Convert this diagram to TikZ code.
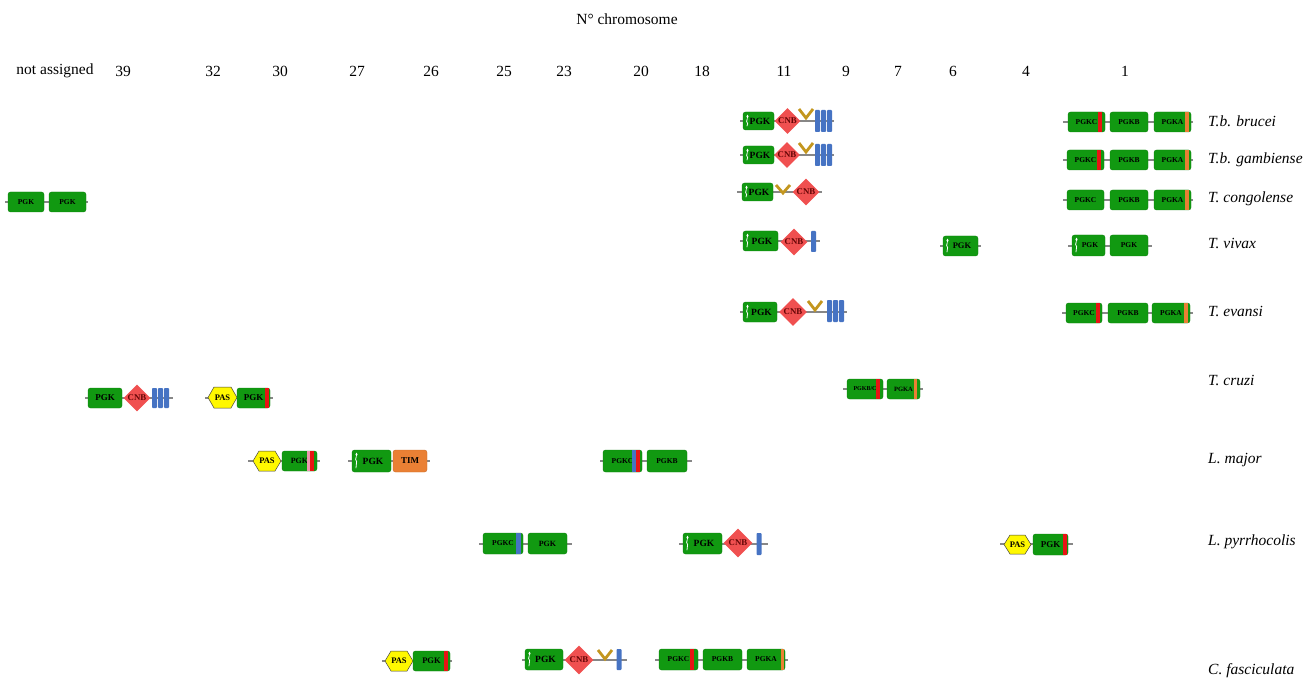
\documentclass[tikz,border=0pt]{standalone}
\usepackage{fontspec}
\setmainfont{Liberation Serif}
\usetikzlibrary{shapes.geometric}
\definecolor{ggreen}{RGB}{17,153,17}
\definecolor{cnbred}{RGB}{240,80,80}
\definecolor{cnbtext}{RGB}{100,5,5}
\definecolor{barblue}{RGB}{70,115,195}
\definecolor{vgold}{RGB}{195,150,30}
\definecolor{orng}{RGB}{234,128,52}
\definecolor{pasyel}{RGB}{255,248,0}
\definecolor{bbgray}{RGB}{135,135,135}
\definecolor{stripered}{RGB}{232,20,20}
\definecolor{stripepink}{RGB}{240,150,175}
\tikzset{
  gbox/.style={fill=ggreen, draw=ggreen!85!black, line width=0.4pt, rounded corners=2.5pt, inner sep=0pt, text=black},
  timbox/.style={gbox, fill=orng, draw=orng!85!black},
  cnb/.style={diamond, fill=cnbred, inner sep=0pt, text=cnbtext, font=\fontsize{8.8}{8.8}\selectfont\bfseries},
  bbar/.style={fill=barblue, rounded corners=0.8pt, inner sep=0pt, minimum width=5pt},
  vmark/.style={draw=vgold, line width=2.8pt},
  bbline/.style={draw=bbgray, line width=1.1pt},
  pasdraw/.style={fill=pasyel, draw=black!75, line width=0.5pt},
  pastext/.style={inner sep=0pt, font=\fontsize{8.5}{8.5}\selectfont\bfseries},
  lab/.style={font=\fontsize{15.5}{15.5}\selectfont, inner sep=0pt},
  spec/.style={lab, font=\fontsize{15.5}{15.5}\selectfont\itshape, anchor=west}
}
% name, x1, x2, y1, y2, label, fontsize
\newcommand{\GB}[7]{\node[gbox, font=\fontsize{#7}{#7}\selectfont\bfseries, minimum width={(#3-#2)*1pt}, minimum height={(#5-#4)*1pt}] (#1) at ({(#2+#3)/2},{(#4+#5)/2}) {#6};}
\newcommand{\TB}[7]{\node[timbox, font=\fontsize{#7}{#7}\selectfont\bfseries, minimum width={(#3-#2)*1pt}, minimum height={(#5-#4)*1pt}] (#1) at ({(#2+#3)/2},{(#4+#5)/2}) {#6};}
% stripe x1 x2 y1 y2 colour
\newcommand{\ST}[5]{\fill[#5] (#1,#3) rectangle (#2,#4);}
% white mark x1 y1 y2
\newcommand{\WM}[3]{\fill[white] (#1+4.5,#2+4.5) ellipse (1.1pt and 1.8pt); \draw[white, line width=0.8pt, line cap=round] (#1+4.3,#2+6.5) -- (#1+3.6,#2+9.5) -- (#1+4.6,#2+11.5) -- (#1+4,{#3-4});}
% diamond name x y size
\newcommand{\CN}[4]{\node[cnb, minimum width=#4pt, minimum height=#4pt] (#1) at (#2,#3) {CNB};}
% chevron name x ytop depth
\newcommand{\VV}[4]{\coordinate (#1) at (#2,#3); \draw[vmark] (#2-7,#3) -- (#2,#3+#4) -- (#2+7,#3);}
% bar name cx y1 y2
\newcommand{\BR}[4]{\node[bbar, minimum height={(#4-#3)*1pt}] (#1) at (#2,{(#3+#4)/2}) {};}
% PAS name x1 x2 y1 y2
\newcommand{\PA}[5]{\draw[pasdraw] (#2,{(#4+#5)/2}) -- (#2+6,#4) -- (#3-6,#4) -- (#3,{(#4+#5)/2}) -- (#3-6,#5) -- (#2+6,#5) -- cycle; \node[pastext] (#1) at ({(#2+#3)/2},{(#4+#5)/2}) {PAS};}
% backbone name x1 x2 y
\newcommand{\BB}[4]{\coordinate (#1a) at (#2,#4); \coordinate (#1b) at (#3,#4); \draw[bbline] (#1a) -- (#1b);}
\begin{document}
\begin{tikzpicture}[x=1pt,y=-1pt]
\useasboundingbox (0,0) rectangle (1304,679);
% titles
\node[lab] (title) at (627,19) {N° chromosome};
\node[lab] (cna) at (55,71) {not assigned};
\node[lab] (c39) at (123,71) {39};
\node[lab] (c32) at (213,71) {32};
\node[lab] (c30) at (280,71) {30};
\node[lab] (c27) at (357,71) {27};
\node[lab] (c26) at (431,71) {26};
\node[lab] (c25) at (504,71) {25};
\node[lab] (c23) at (564,71) {23};
\node[lab] (c20) at (641,71) {20};
\node[lab] (c18) at (702,71) {18};
\node[lab] (c11) at (784,71) {11};
\node[lab] (c9) at (846,71) {9};
\node[lab] (c7) at (898,71) {7};
\node[lab] (c6) at (953,71) {6};
\node[lab] (c4) at (1026,71) {4};
\node[lab] (c1) at (1125,71) {1};
% species
\node[spec] (s1) at (1208,121) {T.b. brucei};
\node[spec] (s2) at (1208,160) {T.b. gambiense};
\node[spec] (s3) at (1208,199) {T. congolense};
\node[spec] (s4) at (1208,243) {T. vivax};
\node[spec] (s5) at (1208,311) {T. evansi};
\node[spec] (s6) at (1208,380) {T. cruzi};
\node[spec] (s7) at (1208,460) {L. major};
\node[spec] (s8) at (1208,542) {L. pyrrhocolis};
\node[spec] (s9) at (1208,671) {C. fasciculata};

% ---- T.b. brucei
\BB{l1}{740}{834}{121}
\GB{p1}{743}{774}{112}{130}{\hspace{3pt}PGK}{9.5}\WM{743}{112}{130}
\CN{cn1}{787.5}{121}{26}
\VV{v1}{806}{109}{9}
\BR{b1a}{817.5}{110}{132}\BR{b1b}{823.5}{110}{132}\BR{b1c}{829.5}{110}{132}
\BB{r1}{1063}{1193}{122}
\GB{pc1}{1068}{1105}{112}{132}{PGKC\hspace{3pt}}{7.5}\ST{1098}{1102}{112}{132}{stripered}
\GB{pb1}{1110}{1148}{112}{132}{PGKB}{7.5}
\GB{pa1}{1154}{1191}{112}{132}{PGKA\hspace{3pt}}{7.5}\ST{1185}{1189}{112}{132}{orng}

% ---- T.b. gambiense
\BB{l2}{740}{834}{155}
\GB{p2}{743}{774}{146}{164}{\hspace{3pt}PGK}{9.5}\WM{743}{146}{164}
\CN{cn2}{787}{155}{26}
\VV{v2}{806}{143}{9}
\BR{b2a}{817.5}{144}{166}\BR{b2b}{823.5}{144}{166}\BR{b2c}{829.5}{144}{166}
\BB{r2}{1063}{1193}{160}
\GB{pc2}{1067}{1104}{150}{170}{PGKC\hspace{3pt}}{7.5}\ST{1097}{1101}{150}{170}{stripered}
\GB{pb2}{1110}{1148}{150}{170}{PGKB}{7.5}
\GB{pa2}{1154}{1191}{150}{170}{PGKA\hspace{3pt}}{7.5}\ST{1185}{1189}{150}{170}{orng}

% ---- T. congolense
\BB{l3}{737}{822}{192}
\GB{p3}{742}{773}{183}{201}{\hspace{3pt}PGK}{9.5}\WM{742}{183}{201}
\VV{v3}{783}{185}{8}
\CN{cn3}{806}{192}{27}
\BB{r3}{1063}{1193}{200}
\GB{pc3}{1067}{1104}{190}{210}{PGKC}{7.5}
\GB{pb3}{1110}{1148}{190}{210}{PGKB}{7.5}
\GB{pa3}{1154}{1191}{190}{210}{PGKA\hspace{3pt}}{7.5}\ST{1185}{1189}{190}{210}{orng}

% ---- not assigned
\BB{na}{5}{88}{202}
\GB{pn1}{8}{44}{192}{212}{PGK}{7.5}
\GB{pn2}{49}{86}{192}{212}{PGK}{7.5}

% ---- T. vivax
\BB{l4}{740}{820}{241}
\GB{p4}{743}{778}{231}{251}{\hspace{3pt}PGK}{9.5}\WM{743}{231}{251}
\CN{cn4}{794}{242}{27}
\BR{b4}{813.5}{231}{252}
\BB{v6}{940}{981}{246}
\GB{p6}{943}{978}{236}{256}{\hspace{3pt}PGK}{8.5}\WM{943}{236}{256}
\BB{r4}{1068}{1152}{246}
\GB{pv1}{1072}{1105}{235}{256}{\hspace{3pt}PGK}{7.5}\WM{1072}{235}{256}
\GB{pv2}{1110}{1148}{235}{256}{PGK}{7.5}

% ---- T. evansi
\BB{l5}{740}{847}{312}
\GB{p5}{743}{777}{302}{322}{\hspace{3pt}PGK}{9.5}\WM{743}{302}{322}
\CN{cn5}{793}{312}{28}
\VV{v5}{815}{301}{9}
\BR{b5a}{829.5}{300}{322}\BR{b5b}{835.5}{300}{322}\BR{b5c}{841.5}{300}{322}
\BB{r5}{1062}{1193}{313}
\GB{pc5}{1066}{1102}{303}{323}{PGKC\hspace{3pt}}{7.5}\ST{1096}{1100}{303}{323}{stripered}
\GB{pb5}{1108}{1148}{303}{323}{PGKB}{7.5}
\GB{pa5}{1152}{1190}{303}{323}{PGKA\hspace{3pt}}{7.5}\ST{1184}{1188}{303}{323}{orng}

% ---- T. cruzi
\BB{cz1}{85}{173}{398}
\GB{pz1}{88}{122}{388}{408}{PGK}{9}
\CN{cnz}{137}{398}{27}
\BR{bza}{154.5}{388}{408}\BR{bzb}{160.5}{388}{408}\BR{bzc}{166.5}{388}{408}
\BB{cz2}{205}{273}{398}
\PA{az}{208}{237}{387}{408}
\GB{pz2}{237}{270}{388}{408}{PGK\hspace{4pt}}{9}\ST{265}{269}{388}{408}{stripered}
\BB{cz3}{843}{923}{389}
\GB{pz3}{847}{883}{379}{399}{PGKB/C\hspace{3pt}}{6}\ST{876}{880}{379}{399}{stripered}
\GB{pz4}{887}{920}{379}{399}{PGKA\hspace{3pt}}{6.5}\ST{914}{917}{379}{399}{orng}

% ---- L. major
\BB{lm1}{248}{320}{461}
\PA{am}{253}{281}{451}{471}
\GB{pm1}{282}{317}{451}{471}{PGK\hspace{11pt}}{8}\ST{307}{310}{451}{471}{stripepink}\ST{310}{314}{451}{471}{stripered}
\BB{lm2}{348}{430}{461}
\GB{pm2}{352}{391}{450}{472}{\hspace{3pt}PGK}{9.5}\WM{352}{450}{472}
\TB{tm}{393}{427}{450}{472}{TIM}{9}
\BB{lm3}{600}{692}{461}
\GB{pm3}{603}{642}{450}{472}{PGKC\hspace{7pt}}{7.5}\ST{632}{636}{450}{472}{barblue}\ST{636}{640}{450}{472}{stripered}
\GB{pm4}{647}{687}{450}{472}{PGKB}{7.5}

% ---- L. pyrrhocolis
\BB{lp1}{479}{572}{544}
\GB{pp1}{483}{523}{533}{554}{PGKC\hspace{5pt}}{7.5}\ST{516}{521}{533}{554}{barblue}
\GB{pp2}{528}{567}{533}{554}{PGK}{8}
\BB{lp2}{679}{768}{544}
\GB{pp3}{683}{722}{533}{554}{\hspace{3pt}PGK}{9.5}\WM{683}{533}{554}
\CN{cnp}{738}{543}{29}
\BR{bp}{759}{533}{555}
\BB{lp3}{1000}{1073}{544}
\PA{ap}{1004}{1031}{535}{554}
\GB{pp4}{1033}{1068}{534}{555}{PGK\hspace{4pt}}{9}\ST{1063}{1067}{534}{555}{stripered}

% ---- C. fasciculata
\BB{cf1}{382}{452}{661}
\PA{af}{385}{413}{651}{671}
\GB{pf1}{413}{450}{651}{671}{PGK\hspace{4pt}}{8.5}\ST{444}{448}{651}{671}{stripered}
\BB{cf2}{522}{627}{660}
\GB{pf2}{525}{563}{649}{670}{\hspace{3pt}PGK}{9.5}\WM{525}{649}{670}
\CN{cnf}{579}{660}{29}
\VV{vf}{605}{650}{9}
\BR{bf}{619}{649}{670}
\BB{cf3}{655}{788}{660}
\GB{pf3}{659}{698}{649}{670}{PGKC\hspace{4pt}}{7.5}\ST{690}{694}{649}{670}{stripered}
\GB{pf4}{703}{742}{649}{670}{PGKB}{7.5}
\GB{pf5}{747}{785}{649}{670}{PGKA\hspace{3pt}}{7.5}\ST{781}{784}{649}{670}{orng}
\end{tikzpicture}
\end{document}
